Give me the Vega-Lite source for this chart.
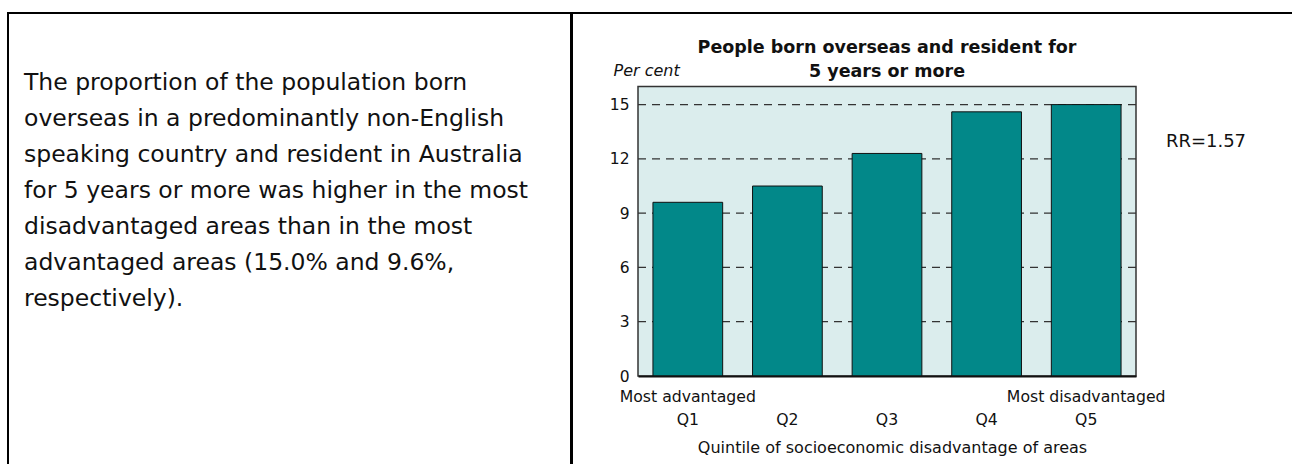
{
  "$schema": "https://vega.github.io/schema/vega-lite/v6.json",
  "padding": {"left": 7, "top": 12, "right": 0, "bottom": 0},
  "background": "white",
  "spacing": -2,
  "config": {
    "view": {"stroke": "black", "strokeWidth": 2},
    "font": "DejaVu Sans",
    "text": {"color": "#111"}
  },
  "datasets": {
    "bars": [
      {"quintile": "Q1", "pct": 9.6},
      {"quintile": "Q2", "pct": 10.5},
      {"quintile": "Q3", "pct": 12.3},
      {"quintile": "Q4", "pct": 14.6},
      {"quintile": "Q5", "pct": 15.0}
    ],
    "para": [
      {"line": 1, "text": "The proportion of the population born"},
      {"line": 2, "text": "overseas in a predominantly non-English"},
      {"line": 3, "text": "speaking country and resident in Australia"},
      {"line": 4, "text": "for 5 years or more was higher in the most"},
      {"line": 5, "text": "disadvantaged areas than in the most"},
      {"line": 6, "text": "advantaged areas (15.0% and 9.6%,"},
      {"line": 7, "text": "respectively)."}
    ],
    "grid": [{"tick": 3}, {"tick": 6}, {"tick": 9}, {"tick": 12}, {"tick": 15}],
    "note": [{"label": "RR=1.57", "pos": 1.06, "level": 12.92}]
  },
  "hconcat": [
    {
      "width": 563,
      "height": 470,
      "data": {"name": "para"},
      "mark": {"type": "text", "align": "left", "baseline": "alphabetic", "fontSize": 23.5, "color": "#111"},
      "encoding": {
        "x": {"datum": 0, "type": "quantitative", "scale": {"domain": [0, 1], "range": [16, 560]}, "axis": null},
        "y": {"field": "line", "type": "quantitative", "scale": {"domain": [1, 7], "range": [77, 293]}, "axis": null},
        "text": {"field": "text"}
      }
    },
    {
      "width": 730,
      "height": 470,
      "title": {
        "text": ["People born overseas and resident for", "5 years or more"],
        "fontSize": 17.5,
        "fontWeight": "bold",
        "color": "#111",
        "anchor": "middle",
        "frame": "group",
        "baseline": "bottom",
        "lineHeight": 23.5,
        "offset": -85,
        "dx": -50
      },
      "resolve": {"scale": {"x": "independent"}},
      "layer": [
        {
          "data": {"values": [{}]},
          "mark": {"type": "rect", "fill": "#dbeded", "stroke": "#333", "strokeWidth": 1.5},
          "encoding": {
            "x": {"datum": 0, "type": "quantitative", "scale": {"domain": [0, 1], "range": [66, 564]}, "axis": null},
            "x2": {"datum": 1},
            "y": {
              "datum": 0, "type": "quantitative",
              "scale": {"domain": [0, 16], "range": [363, 73.5], "nice": false},
              "axis": {
                "orient": "left",
                "offset": -66,
                "zindex": 1,
                "values": [0, 3, 6, 9, 12, 15],
                "grid": false,
                "domain": false,
                "ticks": false,
                "labelFontSize": 15.5,
                "labelColor": "#111",
                "labelPadding": 9,
                "title": "Per cent",
                "titleAngle": 0,
                "titleFontStyle": "italic",
                "titleFontWeight": "normal",
                "titleFontSize": 16,
                "titleColor": "#111",
                "titleAlign": "left",
                "titleBaseline": "alphabetic",
                "titleX": -25,
                "titleY": 62
              }
            },
            "y2": {"datum": 16}
          }
        },
        {
          "data": {"name": "grid"},
          "mark": {"type": "rule", "stroke": "#333", "strokeWidth": 1.2, "strokeDash": [8, 6]},
          "encoding": {
            "x": {"datum": 0, "type": "quantitative", "scale": {"domain": [0, 1], "range": [66, 564]}, "axis": null},
            "x2": {"datum": 1},
            "y": {"field": "tick", "type": "quantitative"}
          }
        },
        {
          "data": {"name": "bars"},
          "mark": {"type": "bar", "fill": "#028889", "stroke": "#111", "strokeWidth": 1},
          "encoding": {
            "x": {
              "field": "quintile", "type": "nominal", "sort": null,
              "scale": {"range": [66, 564], "paddingInner": 0.3, "paddingOuter": 0.15},
              "axis": {
                "orient": "bottom",
                "offset": -107,
                "zindex": 1,
                "title": "Quintile of socioeconomic disadvantage of areas",
                "titleFontSize": 16,
                "titleFontWeight": "normal",
                "titleColor": "#111",
                "titleBaseline": "alphabetic",
                "titleY": 76,
                "titleX": 320,
                "domain": true,
                "domainColor": "#111",
                "domainWidth": 2,
                "ticks": false,
                "labelAngle": 0,
                "labelFontSize": 15.7,
                "labelColor": "#111",
                "labelBaseline": "alphabetic",
                "labelPadding": 25,
                "labelLineHeight": 23,
                "labelExpr": "datum.value == 'Q1' ? ['Most advantaged', 'Q1'] : datum.value == 'Q5' ? ['Most disadvantaged', 'Q5'] : ['', datum.value]"
              }
            },
            "y": {"field": "pct", "type": "quantitative"}
          }
        },
        {
          "data": {"name": "note"},
          "mark": {"type": "text", "align": "left", "baseline": "middle", "fontSize": 18, "color": "#111"},
          "encoding": {
            "x": {"field": "pos", "type": "quantitative", "scale": {"domain": [0, 1], "range": [66, 564]}, "axis": null},
            "y": {"field": "level", "type": "quantitative"},
            "text": {"field": "label"}
          }
        }
      ]
    }
  ]
}
